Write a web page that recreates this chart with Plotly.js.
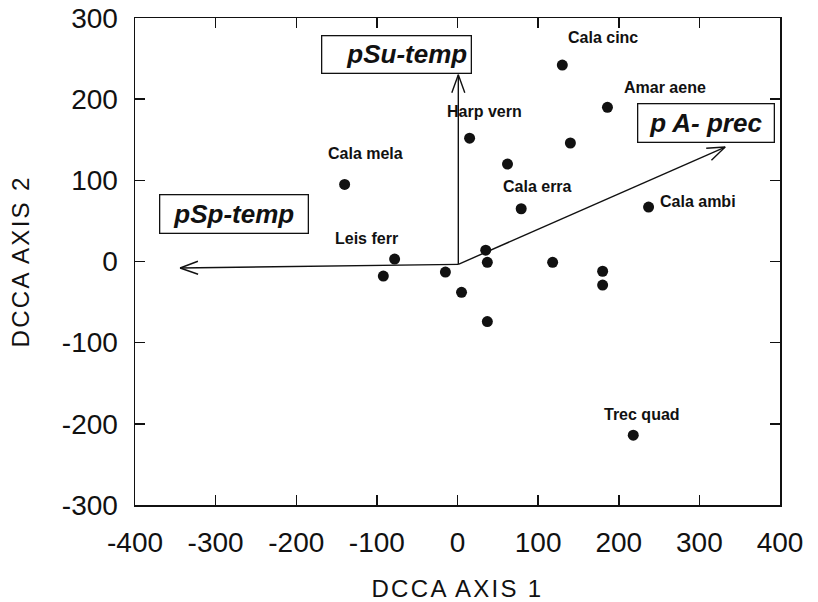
<!DOCTYPE html>
<html>
<head>
<meta charset="utf-8">
<script src="https://cdn.plot.ly/plotly-3.0.1.min.js"></script>
<style>
  html, body { margin: 0; padding: 0; background: #fff; }
  #chart { width: 818px; height: 602px; }
  .xtitle, .ytitle { letter-spacing: 2.3px; }
</style>
</head>
<body>
<div id="chart"></div>
<script>
// ---- Data ----
const speciesX = [-140, 15, -78, -92, -15, 5, 130, 186, 140, 62, 79, 237, 35, 37, 118, 180, 180, 37, 218];
const speciesY = [95, 152, 3, -18, -13, -38, 242, 190, 146, 120, 65, 67, 14, -1, -1, -12, -29, -74, -214];
const speciesLabel = ['Cala mela', 'Harp vern', 'Leis ferr', '', '', '', 'Cala cinc', 'Amar aene', '', '', 'Cala erra', 'Cala ambi', '', '', '', '', '', '', 'Trec quad'];

const envName = ['pSp-temp', 'pSu-temp', 'p A- prec'];
const envX = [-344, 1, 332];
const envY = [-8, 230, 141];
const envOriginX = 1;
const envOriginY = -3.5;

const xTicks = [-400, -300, -200, -100, 0, 100, 200, 300, 400];
const yTicks = [-300, -200, -100, 0, 100, 200, 300];

// ---- Styling / placement (not data) ----
const W = 818, H = 602;
const M = {l: 135, r: 38, t: 18, b: 97};
const X_RANGE = [-400, 400], Y_RANGE = [-300, 300];
const pxPerX = (W - M.l - M.r) / (X_RANGE[1] - X_RANGE[0]);
const pxPerY = (H - M.t - M.b) / (Y_RANGE[1] - Y_RANGE[0]);
const HEAD_LEN = 19, HEAD_ANGLE = 20 * Math.PI / 180;

const labelShift = {            // pixel offsets of species names from their dots
  'Cala mela': [21, 31], 'Harp vern': [15, 27], 'Leis ferr': [-28, 21],
  'Cala cinc': [41, 28], 'Amar aene': [58, 20], 'Cala erra': [16, 22],
  'Cala ambi': [49, 6], 'Trec quad': [9, 21]
};
const envBox = {               // box centre (data units) and size (px)
  'pSp-temp': {x: -277.5, y: 58.8, w: 149, h: 39, align: 'center'},
  'pSu-temp': {x: -75.4, y: 255.6, w: 150, h: 38, align: 'right'},
  'p A- prec': {x: 308.2, y: 170.9, w: 137, h: 39, align: 'center'}
};

const FONT = 'Liberation Sans, Arial, Helvetica, sans-serif';

// arrow shafts + open V heads, built from the env arrays
const arrowX = [], arrowY = [];
envName.forEach((n, i) => {
  const tx = envX[i], ty = envY[i];
  const dxp = (tx - envOriginX) * pxPerX, dyp = (ty - envOriginY) * pxPerY;
  const ang = Math.atan2(dyp, dxp);
  const arm = (s) => [tx - HEAD_LEN * Math.cos(ang + s * HEAD_ANGLE) / pxPerX,
                      ty - HEAD_LEN * Math.sin(ang + s * HEAD_ANGLE) / pxPerY];
  const a1 = arm(1), a2 = arm(-1);
  arrowX.push(envOriginX, tx, null, a1[0], tx, a2[0], null);
  arrowY.push(envOriginY, ty, null, a1[1], ty, a2[1], null);
});

const annotations = [];
envName.forEach((n) => {
  const b = envBox[n];
  annotations.push({
    x: b.x, y: b.y, xref: 'x', yref: 'y', showarrow: false,
    text: '<b><i>' + n + '</i></b>',
    font: {family: FONT, size: 26, color: '#111'},
    bordercolor: '#111', borderwidth: 1.3, borderpad: 3,
    bgcolor: 'rgba(255,255,255,0)',
    width: b.w - 8, height: b.h - 8, align: b.align, valign: 'middle'
  });
});
speciesLabel.forEach((lab, i) => {
  if (!lab) return;
  const s = labelShift[lab];
  annotations.push({
    x: speciesX[i], y: speciesY[i], xref: 'x', yref: 'y', showarrow: false,
    text: '<b>' + lab + '</b>', xshift: s[0], yshift: s[1],
    font: {family: FONT, size: 16, color: '#111'}
  });
});

const arrows = {
  type: 'scatter', mode: 'lines', x: arrowX, y: arrowY,
  line: {color: '#111', width: 1.4}, connectgaps: false,
  hoverinfo: 'skip', showlegend: false, cliponaxis: false
};
const points = {
  type: 'scatter', mode: 'markers',
  x: speciesX, y: speciesY,
  marker: {size: 11, color: '#111'},
  hoverinfo: 'skip', showlegend: false
};

const axisCommon = {
  showline: true, linecolor: '#111', linewidth: 1.5, mirror: 'ticks',
  ticks: 'inside', ticklen: 10, tickwidth: 1.5, tickcolor: '#111',
  showgrid: false, zeroline: false,
  tickfont: {family: FONT, size: 28, color: '#111'},
  tickmode: 'array'
};

const layout = {
  width: W, height: H,
  margin: M,
  paper_bgcolor: '#fff', plot_bgcolor: '#fff',
  xaxis: Object.assign({}, axisCommon, {
    range: X_RANGE, tickvals: xTicks, ticktext: xTicks.map(String),
    ticklabelstandoff: 12,
    title: {text: 'DCCA AXIS 1', font: {family: FONT, size: 24, color: '#111'}, standoff: 25}
  }),
  yaxis: Object.assign({}, axisCommon, {
    range: Y_RANGE, tickvals: yTicks, ticktext: yTicks.map(String),
    ticklabelstandoff: 10,
    title: {text: 'DCCA AXIS 2', font: {family: FONT, size: 24, color: '#111'}, standoff: 25}
  }),
  annotations: annotations,
  showlegend: false
};

Plotly.newPlot('chart', [arrows, points], layout, {displayModeBar: false, staticPlot: true});
</script>
</body>
</html>
